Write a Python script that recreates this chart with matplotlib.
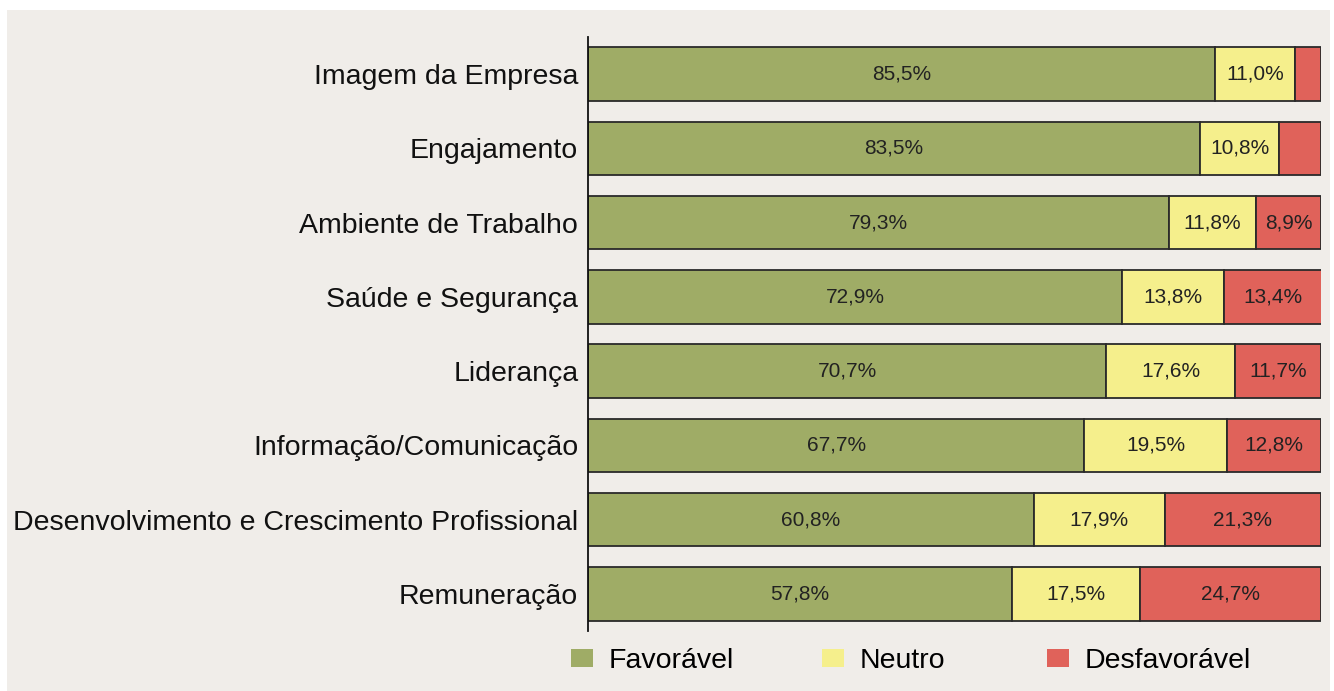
import numpy as np
import matplotlib
matplotlib.use("Agg")
import matplotlib.pyplot as plt
from matplotlib.patches import Rectangle

# data
categories = ["Imagem da Empresa", "Engajamento", "Ambiente de Trabalho",
              "Saúde e Segurança", "Liderança", "Informação/Comunicação",
              "Desenvolvimento e Crescimento Profissional", "Remuneração"]
favoravel = [85.5, 83.5, 79.3, 72.9, 70.7, 67.7, 60.8, 57.8]
neutro = [11.0, 10.8, 11.8, 13.8, 17.6, 19.5, 17.9, 17.5]
desfavoravel = [3.5, 5.7, 8.9, 13.4, 11.7, 12.8, 21.3, 24.7]
series_names = ["Favorável", "Neutro", "Desfavorável"]
colors = ["#9fac66", "#f5ef8c", "#e0625a"]

plt.rcParams['font.family'] = ['Liberation Sans', 'DejaVu Sans']
bg = "#f0ede9"

fig = plt.figure(figsize=(13.34, 6.91), dpi=100)
fig.patch.set_facecolor("white")
# beige panel behind the chart
fig.patches.append(Rectangle((7/1334, 0), 1323/1334, 1 - 10/691,
                             transform=fig.transFigure, facecolor=bg,
                             edgecolor="none", zorder=-1))

ax = fig.add_axes([588/1334, 1 - 631/691, 733/1334, 594/691])
ax.set_facecolor("none")

y = np.arange(len(categories))
left = np.zeros(len(categories))
bars = []
for vals, name, c in zip([favoravel, neutro, desfavoravel], series_names, colors):
    b = ax.barh(y, vals, left=left, height=0.72, color=c, edgecolor="#2a2a2a",
                linewidth=1.3, label=name)
    bars.append(b)
    # value labels, skip the tiny red ones that don't fit
    for yi, v, l in zip(y, vals, left):
        if v >= 8:
            ax.text(l + v / 2, yi, f"{v:.1f}%".replace(".", ","),
                    ha="center", va="center", fontsize=15, color="#222222")
    left = left + np.array(vals)

ax.set_xlim(0, 100)
ax.set_ylim(len(categories) - 0.5, -0.5)
ax.set_yticks(y)
ax.set_yticklabels(categories, fontsize=20.5, color="#111111")
ax.tick_params(axis="y", length=0, pad=7)
ax.set_xticks([])
for s in ["top", "right", "bottom"]:
    ax.spines[s].set_visible(False)
ax.spines["left"].set_color("#111111")
ax.spines["left"].set_linewidth(1.3)

# one legend per entry to match the uneven spacing in the original
leg_x = [571, 822, 1047]
for b, name, xpos in zip(bars, series_names, leg_x):
    leg = fig.legend(handles=[b], labels=[name], loc="center left",
                     bbox_to_anchor=(xpos/1334, 1 - 661/691), frameon=False,
                     fontsize=20.5, handlelength=0.78, handleheight=0.58,
                     handletextpad=0.55, borderaxespad=0, borderpad=0)
    for h in leg.legend_handles:
        h.set_edgecolor("none")

fig.savefig("out.png", dpi=100, facecolor=fig.get_facecolor())
